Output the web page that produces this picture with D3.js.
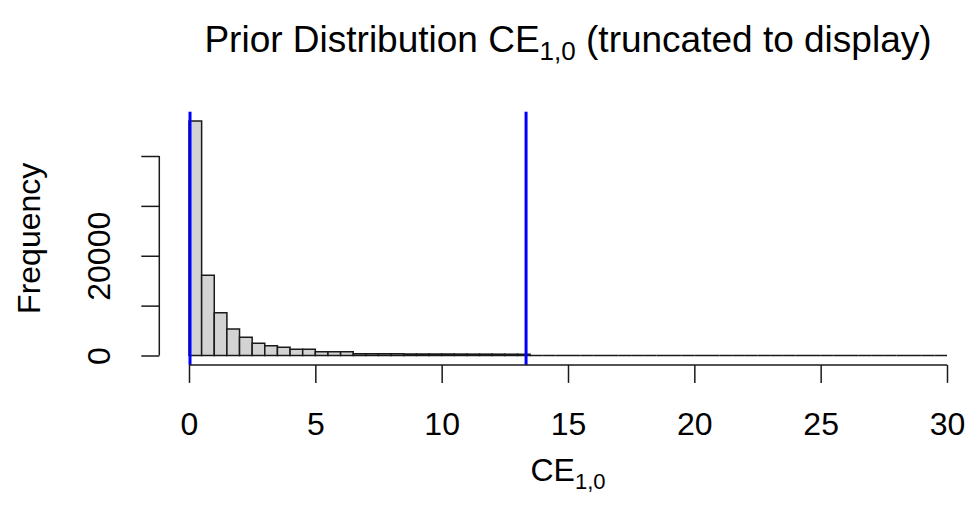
<!DOCTYPE html>
<html>
<head>
<meta charset="utf-8">
<script src="https://cdn.jsdelivr.net/npm/d3@7"></script>
<style>
  html, body { margin: 0; padding: 0; background: #fff; }
  svg { display: block; font-family: "Liberation Sans", Arial, sans-serif; }
</style>
</head>
<body>
<svg id="chart" width="967" height="515"></svg>
<script>
// ---- data ----
const binWidth = 0.5;
// counts per 0.5-wide bin starting at 0 (bins 0..30)
const counts = [
  47000, 16100, 8570, 5300, 3650, 2440, 1960, 1640, 1240, 1240,
  760, 760, 760, 360, 350, 340, 330, 320, 310, 300,
  300, 290, 280, 280, 270, 260, 250, 0, 0, 0,
  0, 0, 0, 0, 0, 0, 0, 0, 0, 0,
  0, 0, 0, 0, 0, 0, 0, 0, 0, 0,
  0, 0, 0, 0, 0, 0, 0, 0, 0, 0
];
const xTicks = [0, 5, 10, 15, 20, 25, 30];
const yTicks = [0, 10000, 20000, 30000, 40000];
const yTickLabels = ["0", "", "20000", "", ""];
const vLines = [0.04, 13.34];

// ---- layout ----
const svg = d3.select("#chart");
const x = d3.scaleLinear().domain([0, 30]).range([189, 947]);
const y = d3.scaleLinear().domain([0, 40000]).range([355.5, 156]);
const ymax = d3.max(counts);
const plotTop = y(ymax * 1.04), plotBottom = y(-ymax * 0.04);

const bins = counts.map((c, i) => ({ x0: i * binWidth, x1: (i + 1) * binWidth, c }));

// bars (drawn as closed paths so that empty bins still show their outline)
svg.append("g").selectAll("path").data(bins).join("path")
  .attr("d", d => `M${x(d.x0)},${y(0)}V${y(d.c)}H${x(d.x1)}V${y(0)}Z`)
  .attr("fill", "#d3d3d3")
  .attr("stroke", "#1a1a1a")
  .attr("stroke-width", 1.5);

// vertical blue lines
svg.append("g").selectAll("line").data(vLines).join("line")
  .attr("x1", d => x(d)).attr("x2", d => x(d))
  .attr("y1", plotTop).attr("y2", plotBottom)
  .attr("stroke", "#0000ff").attr("stroke-width", 3);

// x axis
const xAxisY = plotBottom;
const xa = svg.append("g").attr("transform", `translate(0,${xAxisY})`)
  .call(d3.axisBottom(x).tickValues(xTicks).tickSize(18).tickPadding(0).tickFormat(d3.format("d")));
xa.select(".domain").attr("d", `M${x(0)},0H${x(30)}`).attr("stroke", "#1a1a1a").attr("stroke-width", 1.5);
xa.selectAll(".tick line").attr("stroke", "#1a1a1a").attr("stroke-width", 1.5);
xa.selectAll(".tick text").attr("y", 70).attr("dy", 0)
  .attr("font-size", 32).attr("fill", "#000").attr("font-family", "Liberation Sans, Arial, sans-serif");

// y axis
const yAxisX = 159.3;
const ya = svg.append("g").attr("transform", `translate(${yAxisX},0)`)
  .call(d3.axisLeft(y).tickValues(yTicks).tickSize(18).tickFormat((d, i) => yTickLabels[i]));
ya.select(".domain").attr("d", `M0,${y(0)}V${y(40000)}`).attr("stroke", "#1a1a1a").attr("stroke-width", 1.5);
ya.selectAll(".tick line").attr("stroke", "#1a1a1a").attr("stroke-width", 1.5);
ya.selectAll(".tick text")
  .attr("x", 0).attr("y", 0).attr("dy", 0)
  .attr("transform", `translate(${110 - yAxisX},0) rotate(-90)`)
  .attr("text-anchor", "middle")
  .attr("font-size", 32).attr("fill", "#000").attr("font-family", "Liberation Sans, Arial, sans-serif");

// title
const cx = 568;
const title = svg.append("text").attr("x", cx).attr("y", 52)
  .attr("text-anchor", "middle").attr("font-size", 37).attr("fill", "#000");
title.append("tspan").text("Prior Distribution CE");
title.append("tspan").attr("font-size", 26).attr("dy", 8).text("1,0");
title.append("tspan").attr("dy", -8).text(" (truncated to display)");

// x label
const xl = svg.append("text").attr("x", cx).attr("y", 481)
  .attr("text-anchor", "middle").attr("font-size", 32).attr("fill", "#000");
xl.append("tspan").text("CE");
xl.append("tspan").attr("font-size", 22).attr("dy", 8).text("1,0");

// y label
svg.append("text")
  .attr("transform", `translate(39.5,${(plotTop + plotBottom) / 2}) rotate(-90)`)
  .attr("text-anchor", "middle").attr("font-size", 32).attr("fill", "#000")
  .text("Frequency");
</script>
</body>
</html>
